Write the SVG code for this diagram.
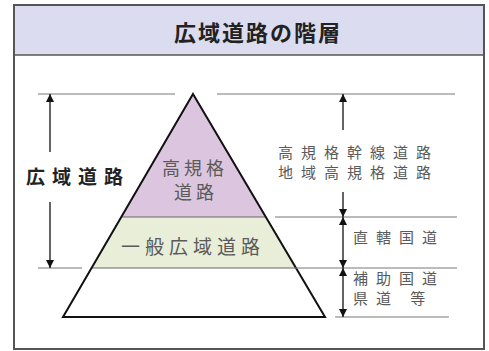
<svg xmlns="http://www.w3.org/2000/svg" width="489" height="351" viewBox="0 0 489 351">
<defs>
<style>
.t{font-family:"Noto Sans CJK JP","Noto Sans",sans-serif;}
.g{fill:#5a5a5a;font-size:15px;letter-spacing:8px;}
.p{fill:#5a5a5a;font-size:18px;letter-spacing:4px;text-anchor:middle;}
.ln{stroke:#777;stroke-width:1;fill:none;}
.ar{stroke:#111;stroke-width:1.3;fill:none;marker-end:url(#ah);}
</style>
<marker id="ah" viewBox="0 0 10 10" refX="10" refY="5" markerWidth="8" markerHeight="8" markerUnits="userSpaceOnUse" orient="auto">
<path d="M0,0 L10,5 L0,10 z" fill="#111"/>
</marker>
<clipPath id="tri"><path d="M193,94 L325,317 L63,317 Z"/></clipPath>
</defs>
<rect x="0" y="0" width="489" height="351" fill="#fff"/>
<g id="frame">
<rect x="14" y="5" width="470" height="344" fill="#fff" stroke="#555" stroke-width="2"/>
<rect x="15" y="6" width="468" height="49" fill="#dcdcf0"/>
<line x1="14" y1="55" x2="484" y2="55" stroke="#555" stroke-width="1.5"/>
<text class="t" x="258" y="41" font-size="22" font-weight="bold" fill="#222" text-anchor="middle" letter-spacing="2">広域道路の階層</text>
</g>
<g id="pyramid">
<g clip-path="url(#tri)">
<rect x="50" y="90" width="290" height="127" fill="#dcc6df"/>
<rect x="50" y="217" width="290" height="51" fill="#e8eed8"/>
<line x1="50" y1="217" x2="340" y2="217" stroke="#666" stroke-width="1.2"/>
<line x1="50" y1="268" x2="340" y2="268" stroke="#666" stroke-width="1.2"/>
</g>
<path d="M193,94 L325,317 L63,317 Z" fill="none" stroke="#111" stroke-width="2" stroke-linejoin="miter"/>
</g>
<g id="node-kouki">
<text class="t p" x="195" y="175">高規格</text>
<text class="t p" x="196" y="199">道路</text>
</g>
<g id="node-ippan">
<text class="t" x="193" y="254" font-size="19" fill="#5a5a5a" text-anchor="middle" letter-spacing="5">一般広域道路</text>
</g>
<g id="label-kouiki">
<text class="t" x="26" y="184" font-size="19" font-weight="bold" fill="#222" letter-spacing="7">広域道路</text>
</g>
<g id="label-kansen">
<text class="t g" x="278" y="158">高規格幹線道路</text>
<text class="t g" x="278" y="178">地域高規格道路</text>
</g>
<g id="label-chokkatsu">
<text class="t g" x="353" y="243">直轄国道</text>
</g>
<g id="label-hojo">
<text class="t g" x="353" y="284">補助国道</text>
<text class="t g" x="353" y="304">県道 等</text>
</g>
<g id="connectors">
<line class="ln" x1="38" y1="94" x2="175" y2="94"/>
<line class="ln" x1="217" y1="94" x2="455" y2="94"/>
<line class="ln" x1="275" y1="217" x2="457" y2="217"/>
<line class="ln" x1="38" y1="268" x2="82" y2="268"/>
<line class="ln" x1="295" y1="268" x2="457" y2="268"/>
<line class="ln" x1="335" y1="317" x2="449" y2="317"/>
<line class="ar" x1="50" y1="152" x2="50" y2="94"/>
<line class="ar" x1="50" y1="202" x2="50" y2="268"/>
<line class="ar" x1="343" y1="130" x2="343" y2="94"/>
<line class="ar" x1="343" y1="192" x2="343" y2="217"/>
<line class="ar" x1="343" y1="242" x2="343" y2="217"/>
<line class="ar" x1="343" y1="242" x2="343" y2="268"/>
<line class="ar" x1="343" y1="292" x2="343" y2="268"/>
<line class="ar" x1="343" y1="292" x2="343" y2="317"/>
</g>
</svg>
